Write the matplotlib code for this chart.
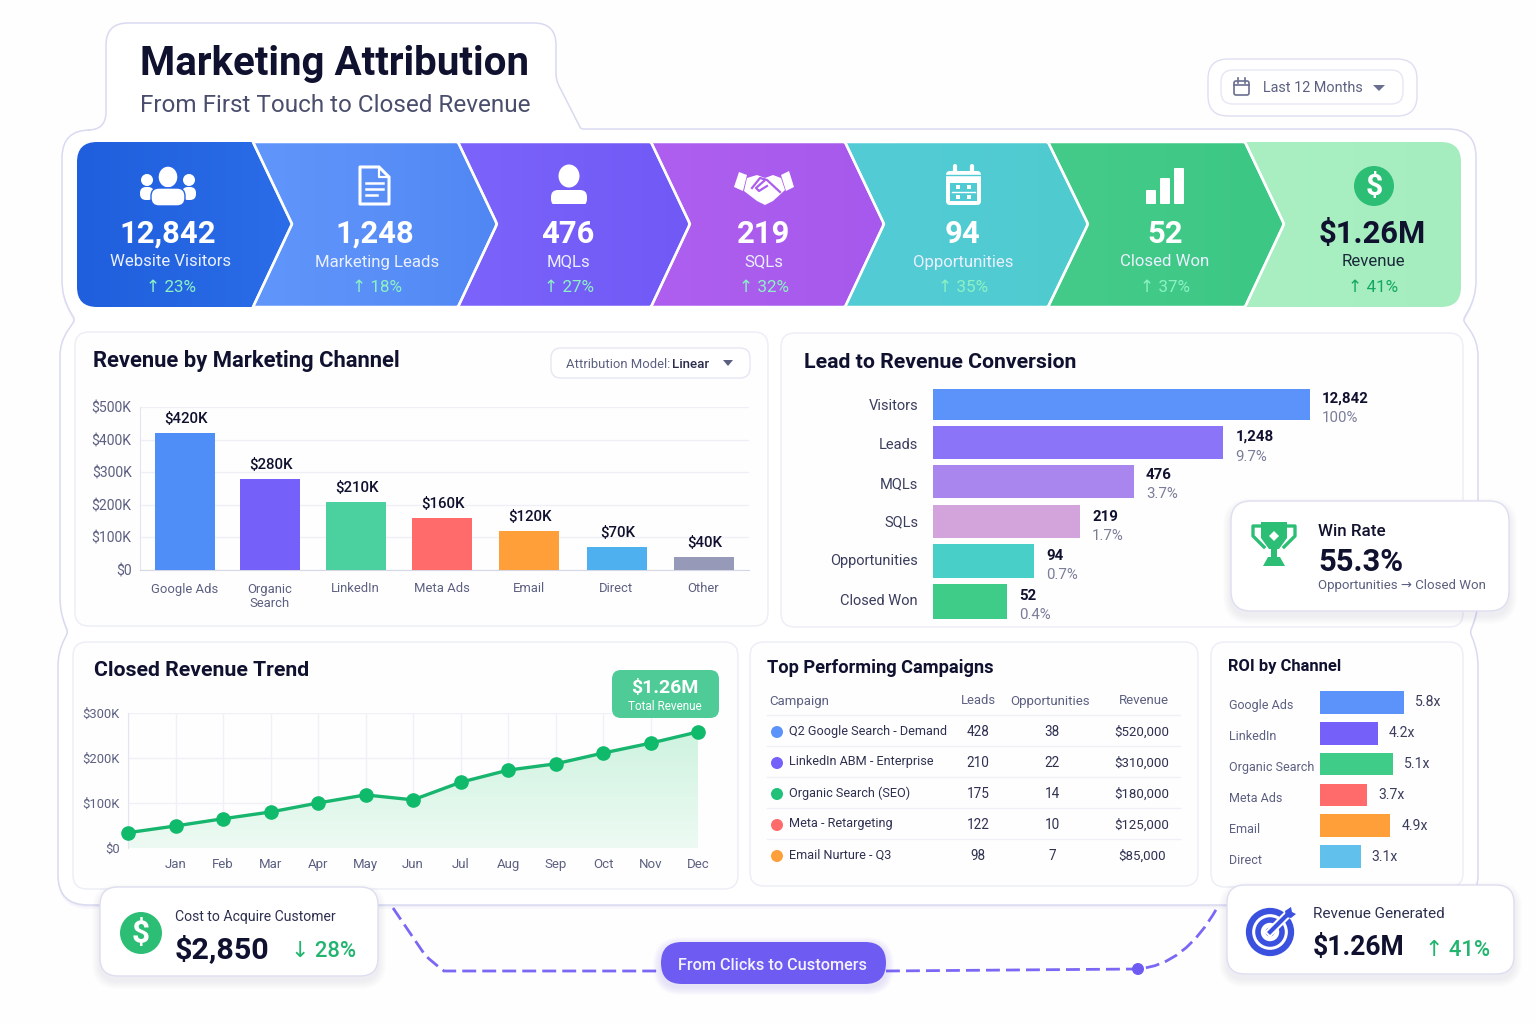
# Marketing attribution dashboard

import matplotlib
matplotlib.use('Agg')
import matplotlib.pyplot as plt
import numpy as np
from matplotlib.colors import LinearSegmentedColormap
from matplotlib.patches import Circle, Ellipse, FancyBboxPatch, PathPatch, Polygon, Rectangle
from matplotlib.path import Path

W, H = 1536, 1024
plt.rcParams['font.family'] = ['Roboto', 'DejaVu Sans']

INK = '#10112F'
GREY = '#5C6080'
EDGE = '#ECEDF6'

# funnel strip
stage_values = ['12,842', '1,248', '476', '219', '94', '52', '$1.26M']
stage_names = ['Website Visitors', 'Marketing Leads', 'MQLs', 'SQLs', 'Opportunities', 'Closed Won', 'Revenue']
stage_changes = ['23%', '18%', '27%', '32%', '35%', '37%', '41%']

# revenue by channel
channels = ['Google Ads', 'Organic\nSearch', 'LinkedIn', 'Meta Ads', 'Email', 'Direct', 'Other']
channel_revenue = [420, 280, 210, 160, 120, 70, 40]
channel_colors = ['#4F8EF7', '#7560FA', '#4BD0A0', '#FF6B6B', '#FF9F3A', '#4FB0F0', '#9699B8']
channel_slots = [185, 270, 355.5, 441.5, 528.5, 616.5, 703.5]

# conversion, bar lengths as drawn (Visitors = 100)
conv_names = ['Visitors', 'Leads', 'MQLs', 'SQLs', 'Opportunities', 'Closed Won']
conv_lengths = [100, 77, 53.3, 39, 26.8, 19.6]
conv_counts = ['12,842', '1,248', '476', '219', '94', '52']
conv_rates = ['100%', '9.7%', '3.7%', '1.7%', '0.7%', '0.4%']
conv_colors = ['#5B93FA', '#8C74F8', '#A985EE', '#D3A4DC', '#48CFC8', '#3FCB88']
conv_slots = [404.5, 442.5, 481.5, 521.5, 561, 601.5]
conv_heights = [31, 33, 33, 33, 34, 35]
conv_name_y = [406, 445, 484, 522, 561, 601]
conv_count_y = [399, 437, 475, 517, 556, 596]
conv_rate_y = [418, 457, 494, 536, 575, 615]

# revenue trend, first point has no month label
months = ['', 'Jan', 'Feb', 'Mar', 'Apr', 'May', 'Jun', 'Jul', 'Aug', 'Sep', 'Oct', 'Nov', 'Dec']
trend = [34, 49, 65, 80, 100, 118, 107, 146, 173, 187, 211, 233, 258]

# campaigns table
campaigns = ['Q2 Google Search - Demand', 'LinkedIn ABM - Enterprise', 'Organic Search (SEO)',
             'Meta - Retargeting', 'Email Nurture - Q3']
camp_leads = [428, 210, 175, 122, 98]
camp_opps = [38, 22, 14, 10, 7]
camp_revenue = ['$520,000', '$310,000', '$180,000', '$125,000', '$85,000']
camp_colors = ['#5B93FA', '#7560FA', '#22C17A', '#FF6B6B', '#FF9F3A']

# ROI, bar lengths as drawn
roi_names = ['Google Ads', 'LinkedIn', 'Organic Search', 'Meta Ads', 'Email', 'Direct']
roi_labels = ['5.8x', '4.2x', '5.1x', '3.7x', '4.9x', '3.1x']
roi_lengths = [5.8, 4.0, 5.0, 3.25, 4.85, 2.8]
roi_colors = ['#5B93FA', '#7560FA', '#3FCB88', '#FF6B6B', '#FF9F3A', '#62C0EC']


def fs(px):
    return px * 0.72


def new_axes(x0, y0, x1, y1, z=2):
    ax = fig.add_axes((x0 / W, 1 - y1 / H, (x1 - x0) / W, (y1 - y0) / H), zorder=z)
    ax.patch.set_alpha(0)
    return ax


def rrect(ax, x0, y0, x1, y1, r, fc='white', ec='none', lw=1, z=2, alpha=None):
    p = FancyBboxPatch((x0 + r, y0 + r), x1 - x0 - 2 * r, y1 - y0 - 2 * r,
                       boxstyle='round,pad={},rounding_size={}'.format(r, r),
                       fc=fc, ec=ec, lw=lw, zorder=z, alpha=alpha)
    ax.add_patch(p)
    return p


def shadow(ax, x0, y0, x1, y1, r, z=2, dy=5, steps=8, color='#5B5FA0', a=0.012):
    for i in range(steps):
        g = steps - i
        rrect(ax, x0 - g, y0 - g + dy, x1 + g, y1 + g + dy, r + g, fc=color, z=z, alpha=a)


def card(ax, x0, y0, x1, y1, r, z=2, fc='white', ec='#E4E5F4', lw=1.0, dy=5, a=0.012):
    shadow(ax, x0, y0, x1, y1, r, z=z, dy=dy, a=a)
    return rrect(ax, x0, y0, x1, y1, r, fc=fc, ec=ec, lw=lw, z=z)


def outline(pts):
    # closed path through (x, y, r) corners, each corner rounded with radius r
    verts, codes = [], []
    n = len(pts)
    for i in range(n):
        p = np.array(pts[i][:2], float)
        a = np.array(pts[i - 1][:2], float)
        b = np.array(pts[(i + 1) % n][:2], float)
        r = pts[i][2]
        s = p + (a - p) / np.linalg.norm(a - p) * r
        e = p + (b - p) / np.linalg.norm(b - p) * r
        verts.append(s)
        codes.append(Path.MOVETO if i == 0 else Path.LINETO)
        verts += [p, e]
        codes += [Path.CURVE3, Path.CURVE3]
    verts.append(verts[0])
    codes.append(Path.CLOSEPOLY)
    return Path(verts, codes)


def gradient_patch(ax, path, colors, box, z=3):
    x0, y0, x1, y1 = box
    cmap = LinearSegmentedColormap.from_list('g', colors)
    xx, _ = np.meshgrid(np.linspace(0, 1, 64), np.linspace(0, 1, 64))
    im = ax.imshow(xx, extent=(x0, x1, y1, y0), cmap=cmap, aspect='auto', zorder=z, origin='upper')
    patch = PathPatch(path, fc='none', ec='none', zorder=z, transform=ax.transData)
    ax.add_patch(patch)
    im.set_clip_path(patch)
    ax.set_xlim(0, W)
    ax.set_ylim(H, 0)
    return patch


def dollar(ax, cx, cy, r, z):
    ax.add_patch(Circle((cx, cy), r, fc='#2DBE76', ec='none', zorder=z))
    ax.text(cx, cy + 1, '$', color='white', fontsize=fs(r * 1.5), fontweight='bold', ha='center',
            va='center', zorder=z + 1)


fig = plt.figure(figsize=(W / 100, H / 100), dpi=100, facecolor='#FEFEFF')
bg = fig.add_axes((0, 0, 1, 1), zorder=0)
bg.set_xlim(0, W)
bg.set_ylim(H, 0)
bg.axis('off')
top = fig.add_axes((0, 0, 1, 1), zorder=5)
top.set_xlim(0, W)
top.set_ylim(H, 0)
top.axis('off')
top.patch.set_alpha(0)

# main frame with header tab and side notches
frame = outline([(62, 130, 28), (106, 130, 18), (106, 23, 22), (556, 23, 22), (556, 80, 6), (581, 129, 2),
                 (1476, 129, 28), (1476, 297, 16), (1463, 320, 3), (1478, 342, 14), (1478, 612, 14),
                 (1470, 632, 3), (1478, 652, 14), (1478, 905, 30), (58, 905, 30), (58, 652, 14),
                 (68, 632, 3), (60, 612, 14), (60, 342, 14), (75, 320, 3), (62, 297, 16)])
for off, alpha in ((4, 0.05), (2, 0.08)):
    bg.add_patch(PathPatch(frame.transformed(matplotlib.transforms.Affine2D().translate(0, off)),
                           fc='#8A8CCB', ec='none', alpha=alpha, zorder=1))
bg.add_patch(PathPatch(frame, fc='white', ec='#D9DAF0', lw=1.1, zorder=1))

# header
bg.text(140, 64, 'Marketing Attribution', color=INK, fontsize=fs(40.3), fontweight='bold', va='center')
bg.text(140, 106, 'From First Touch to Closed Revenue', color='#4A4E6C', fontsize=fs(24.3), va='center')

rrect(bg, 1208, 59, 1417, 116, 20, fc='white', ec='#DEDFF2', lw=1, z=2)
rrect(bg, 1221, 70, 1403, 104, 12, fc='white', ec='#E6E7F5', lw=1, z=2)
rrect(bg, 1234, 81, 1249, 95, 2, fc='white', ec='#6A6E90', lw=1.2, z=3)
bg.plot([1234, 1249], [85, 85], color='#6A6E90', lw=1.2, zorder=4)
bg.plot([1238, 1238, np.nan, 1245, 1245], [78, 83, np.nan, 78, 83], color='#6A6E90', lw=1.2, zorder=4)
bg.text(1263, 88, 'Last 12 Months', color='#5C6080', fontsize=fs(14.4), va='center', zorder=4)
bg.add_patch(Polygon([(1373, 85), (1385, 85), (1379, 91)], fc='#6A6E90', ec='none', zorder=4))

# chevrons
tops = [253, 458, 651, 845, 1048, 1245]
tips = [292, 497, 690, 884, 1088, 1284]
y0, y1, ym = 142, 307, 224
stage_fill = [('#1F5FDD', '#2B6CE8'), ('#6197FB', '#5187F3'), ('#7B63FB', '#7059F5'), ('#AE5FEF', '#A659EC'),
              ('#54CCD6', '#4FCBCF'), ('#45CB89', '#3CC785'), ('#A9EFC2', '#A5EDBF')]
stage_x = [168, 375, 568, 764, 963, 1165, 1372]
label_x = [171, 377, 569, 764, 963, 1165, 1373]
for i in range(6, -1, -1):
    if i == 0:
        pts = [(77, y0, 20), (tops[0], y0, 2), (tips[0], ym, 3), (tops[0], y1, 2), (77, y1, 20)]
    elif i == 6:
        pts = [(tops[5], y0, 2), (1461, y0, 20), (1461, y1, 20), (tops[5], y1, 2), (tips[5], ym, 0.5)]
    else:
        pts = [(tops[i - 1], y0, 2), (tops[i], y0, 2), (tips[i], ym, 3), (tops[i], y1, 2), (tops[i - 1], y1, 2),
               (tips[i - 1], ym, 0.5)]
    path = outline(pts)
    gradient_patch(bg, path, stage_fill[i], ((tops[i - 1] if i else 77), y0, (tips[i] if i < 6 else 1461), y1),
                   z=3 + (6 - i) * 0.01)
    edge = 'none' if i in (0, 6) else 'white'
    bg.add_patch(PathPatch(path, fc='none', ec=edge, lw=1.8, zorder=3.2 + (6 - i) * 0.01))
bg.plot([tops[0], tips[0], tops[0]], [y0, ym, y1], color='white', lw=1.8, zorder=3.3)
bg.plot([tops[5], tips[5], tops[5]], [y0, ym, y1], color='white', lw=1.8, zorder=3.3)
for i in range(7):
    dark = i == 6
    bg.text(stage_x[i], 234, stage_values[i], color=INK if dark else 'white', fontsize=fs(31), fontweight='bold',
            ha='center', va='center', zorder=5)
    bg.text(label_x[i], 262, stage_names[i], color='#1A2A3A' if dark else '#EAF0FF', fontsize=fs(16.8),
            ha='center', va='center', zorder=5)
    bg.text(label_x[i], 288, '↑ ' + stage_changes[i], color='#12A862' if dark else '#8CF2C4',
            fontsize=fs(17), ha='center', va='center', zorder=5)

# stage icons
Z = 5
for cx, cy, r in [(147, 180, 6), (189, 180, 6)]:
    bg.add_patch(Circle((cx, cy), r, fc='white', ec='none', zorder=Z))
rrect(bg, 140, 187, 154, 200, 6, z=Z)
rrect(bg, 182, 187, 196, 200, 6, z=Z)
bg.add_patch(Ellipse((168, 177), 20, 22, fc='white', ec='#2563E6', lw=1, zorder=Z + 0.1))
rrect(bg, 151, 188, 185, 206, 8, ec='#2563E6', lw=1, z=Z + 0.1)

bg.add_patch(Polygon([(360, 167), (379, 167), (389, 177), (389, 204), (360, 204)], fc='none', ec='white', lw=2.2,
                     joinstyle='round', zorder=Z))
bg.plot([379, 379, 389], [167, 177, 177], color='white', lw=1.6, zorder=Z)
bg.plot([366, 383, np.nan, 366, 383, np.nan, 366, 377], [183, 183, np.nan, 189, 189, np.nan, 195, 195],
        color='white', lw=1.8, zorder=Z)

bg.add_patch(Ellipse((569, 176), 21, 23, fc='white', ec='none', zorder=Z))
rrect(bg, 551, 190, 587, 206, 7, z=Z)
bg.add_patch(Rectangle((549, 204), 40, 4, fc='#745DF8', ec='none', zorder=Z + 0.1))

bg.add_patch(Polygon([(734, 187), (739, 172), (747, 175), (743, 191)], fc='white', ec='none', zorder=Z))
bg.add_patch(Polygon([(781, 175), (789, 171), (794, 187), (786, 191)], fc='white', ec='none', zorder=Z))
bg.add_patch(Polygon([(747, 178), (757, 175), (765, 178), (773, 175), (781, 178), (785, 190), (773, 201),
                      (765, 205), (757, 201), (744, 191)], fc='white', ec='none', zorder=Z))
bg.plot([752, 760, 767, 780, np.nan, 764, 756, 759, 767], [188, 178, 180, 192, np.nan, 181, 188, 191, 186],
        color='#AD5DEE', lw=1.6, zorder=Z + 0.1)

rrect(bg, 946, 171, 981, 205, 4, z=Z)
bg.plot([955, 955, np.nan, 972, 972], [166, 174, np.nan, 166, 174], color='white', lw=3, zorder=Z,
        solid_capstyle='round')
bg.plot([946, 981], [175, 175], color='#51CBD3', lw=1, zorder=Z + 0.1)
bg.add_patch(Rectangle((950, 183), 27, 18, fc='#51CBD3', ec='none', zorder=Z + 0.1))
bg.plot([952, 975], [192, 192], color='white', lw=1, zorder=Z + 0.2)
for cx, cy in [(958, 187), (969, 187), (958, 197), (969, 197)]:
    bg.add_patch(Rectangle((cx - 2, cy - 2), 4, 4, fc='white', ec='none', zorder=Z + 0.2))

for x0_, y_ in [(1146, 190), (1160, 178), (1174, 168)]:
    rrect(bg, x0_, y_, x0_ + 10, 204, 1, z=Z)

dollar(bg, 1374, 186, 20, Z)

# section cards
for x0_, y0_, x1_, y1_ in [(75, 332, 768, 626), (781, 333, 1463, 627), (73, 642, 738, 889), (750, 642, 1198, 886),
                           (1211, 642, 1463, 887)]:
    rrect(bg, x0_, y0_, x1_, y1_, 14, fc='#FEFEFF', ec=EDGE, lw=1, z=2)

bg.text(93, 361, 'Revenue by Marketing Channel', color=INK, fontsize=fs(22), fontweight='bold', va='center', zorder=3)
bg.text(804, 362, 'Lead to Revenue Conversion', color=INK, fontsize=fs(21.3), fontweight='bold', va='center', zorder=3)
bg.text(94, 670, 'Closed Revenue Trend', color=INK, fontsize=fs(21.3), fontweight='bold', va='center', zorder=3)
bg.text(767, 668, 'Top Performing Campaigns', color=INK, fontsize=fs(18.3), fontweight='bold', va='center', zorder=3)
bg.text(1228, 667, 'ROI by Channel', color=INK, fontsize=fs(16.5), fontweight='bold', va='center', zorder=3)

# attribution dropdown
rrect(bg, 551, 348, 750, 378, 10, fc='white', ec='#E6E7F5', lw=1, z=3)
bg.text(566, 364, 'Attribution Model:', color=GREY, fontsize=fs(13), va='center', zorder=4)
bg.text(672, 364, 'Linear', color='#2A2C4C', fontsize=fs(13.4), fontweight='medium', va='center', zorder=4)
bg.add_patch(Polygon([(723, 360), (733, 360), (728, 366)], fc='#5C6080', ec='none', zorder=4))

# revenue by channel bars
ax = new_axes(140, 407, 749, 570)
ax.bar(channel_slots, channel_revenue, width=60, color=channel_colors, zorder=3)
for x, v in zip(channel_slots, channel_revenue):
    ax.annotate('${}K'.format(v), (x, v), xytext=(1, 5), textcoords='offset points', ha='center', va='bottom',
                color=INK, fontsize=fs(15), fontweight='medium')
ax.set_xlim(140, 749)
ax.set_ylim(0, 500)
ax.set_yticks([0, 100, 200, 300, 400, 500])
ax.set_yticklabels(['$0', '$100K', '$200K', '$300K', '$400K', '$500K'], color=GREY, fontsize=fs(14))
ax.set_xticks(channel_slots)
ax.set_xticklabels(channels, color=GREY, fontsize=fs(13), linespacing=1.15, va='top')
ax.tick_params(length=0, pad=6)
ax.tick_params(axis='x', pad=9)
ax.grid(axis='y', color='#EFF0F6', lw=1)
ax.set_axisbelow(True)
for s in ('top', 'right'):
    ax.spines[s].set_visible(False)
ax.spines['left'].set_color('#E4E5EE')
ax.spines['bottom'].set_color('#D5D7E4')

# conversion bars
ax = new_axes(933, 384, 1400, 624)
ax.barh(conv_slots, conv_lengths, height=conv_heights, color=conv_colors, zorder=3)
ax.set_xlim(0, 467 / 3.77)
ax.set_ylim(624, 384)
ax.axis('off')
for i in range(len(conv_names)):
    ax.annotate(conv_names[i], (0, conv_name_y[i]), xytext=(-fs(15), 0), textcoords='offset points', ha='right',
                va='center', color='#3A3D5C', fontsize=fs(14.6), annotation_clip=False)
    ax.annotate(conv_counts[i], (conv_lengths[i], conv_count_y[i]), xytext=(fs(12), 0), textcoords='offset points',
                ha='left', va='center', color=INK, fontsize=fs(15), fontweight='bold', annotation_clip=False)
    ax.annotate(conv_rates[i], (conv_lengths[i], conv_rate_y[i]), xytext=(fs(12), 0), textcoords='offset points',
                ha='left', va='center', color='#7A7D98', fontsize=fs(15), annotation_clip=False)

# trend line
ax = new_axes(128, 713, 698, 848)
tx = np.arange(len(trend))
fill = ax.fill_between(tx, trend, 0, color='none')
cmap = LinearSegmentedColormap.from_list('f', ['#CFF3E0', '#EDFAF3'])
im = ax.imshow(np.linspace(0, 1, 64).reshape(-1, 1), extent=(0, 12, 0, 260), cmap=cmap, aspect='auto', zorder=1,
               origin='upper')
im.set_clip_path(fill.get_paths()[0], transform=ax.transData)
ax.plot(tx, trend, color='#17B56E', lw=2.4, marker='o', ms=9.5, mfc='#0FBA6B', mec='#0FBA6B', zorder=3, clip_on=False)
ax.set_xlim(0, 12)
ax.set_ylim(0, 300)
ax.set_xticks(tx)
ax.set_xticklabels(months, color=GREY, fontsize=fs(13.2))
ax.set_yticks([0, 100, 200, 300])
ax.set_yticklabels(['$0', '$100K', '$200K', '$300K'], color=GREY, fontsize=fs(13))
ax.tick_params(length=0)
ax.tick_params(axis='x', pad=7)
ax.tick_params(axis='y', pad=6)
ax.grid(color='#F0F1F6', lw=1)
ax.set_axisbelow(True)
for s in ('top', 'right', 'bottom'):
    ax.spines[s].set_visible(False)
ax.spines['left'].set_color('#E4E5EE')

# total revenue badge
rrect(top, 612, 670, 719, 718, 9, fc='#4FCB97', z=3)
top.text(665, 688, '$1.26M', color='white', fontsize=fs(19.5), fontweight='bold', ha='center', va='center', zorder=4)
top.text(665, 707, 'Total Revenue', color='white', fontsize=fs(11.8), ha='center', va='center', zorder=4)

# campaign table
bg.text(769, 701, 'Campaign', color=GREY, fontsize=fs(13.2), va='center', zorder=4)
bg.text(978, 701, 'Leads', color=GREY, fontsize=fs(13), ha='center', va='center', zorder=4)
bg.text(1050, 701, 'Opportunities', color=GREY, fontsize=fs(13.3), ha='center', va='center', zorder=4)
bg.text(1144, 701, 'Revenue', color=GREY, fontsize=fs(13.3), ha='center', va='center', zorder=4)
bg.plot([767, 1180], [715, 715], color='#F0F1F6', lw=1, zorder=3)
for i, name in enumerate(campaigns):
    row = 731 + 31 * i
    bg.add_patch(Circle((777, row + 1), 6, fc=camp_colors[i], ec='none', zorder=4))
    bg.text(789, row, name, color='#2E3050', fontsize=fs(12.6), va='center', zorder=4)
    bg.text(978, row + 1, str(camp_leads[i]), color='#2E3050', fontsize=fs(13.5), ha='center', va='center', zorder=4)
    bg.text(1052, row + 1, str(camp_opps[i]), color='#2E3050', fontsize=fs(13.5), ha='center', va='center', zorder=4)
    bg.text(1142, row + 1, camp_revenue[i], color='#2E3050', fontsize=fs(13.3), ha='center', va='center', zorder=4)
    if i < 4:
        bg.plot([767, 1180], [row + 15, row + 15], color='#F0F1F6', lw=1, zorder=3)

# ROI bars
ax = new_axes(1320, 687, 1456, 872)
rpos = np.arange(len(roi_names))
ax.barh(rpos, roi_lengths, height=0.74, color=roi_colors, zorder=3)
ax.set_xlim(0, 136 / 14.5)
ax.set_ylim(5.5, -0.5)
ax.axis('off')
for i in rpos:
    ax.annotate(roi_names[i], (0, i), xytext=(-fs(91), -fs(3.5)), textcoords='offset points', ha='left', va='center',
                color=GREY, fontsize=fs(12.5), annotation_clip=False)
    ax.annotate(roi_labels[i], (roi_lengths[i], i), xytext=(fs(11), fs(0)), textcoords='offset points', ha='left',
                va='center', color='#3A3D5C', fontsize=fs(14))

# connector and pill
dash = (0, (5, 2.2))
bg.add_patch(PathPatch(Path([(393, 908), (425, 955), (432, 962), (444, 971), (661, 971)],
                            [Path.MOVETO, Path.LINETO, Path.CURVE3, Path.CURVE3, Path.LINETO]),
                       fc='none', ec='#7A68F5', lw=2, ls=dash, zorder=1.5))
bg.add_patch(PathPatch(Path([(886, 971), (1138, 969), (1185, 965), (1217, 908)],
                            [Path.MOVETO, Path.LINETO, Path.CURVE3, Path.CURVE3]),
                       fc='none', ec='#7A68F5', lw=2, ls=dash, zorder=1.5))
bg.add_patch(Circle((1138, 969), 6, fc='#6E5CF2', ec='none', zorder=2))
shadow(bg, 661, 942, 886, 984, 20, z=2, dy=3, a=0.02, color='#6E5CF2')
rrect(bg, 661, 942, 886, 984, 21, fc='#6E5CF2', z=2.5)
bg.text(772, 965, 'From Clicks to Customers', color='#F4F2FF', fontsize=fs(16.3), ha='center', va='center', zorder=3,
        fontweight='medium')

# win rate card
card(top, 1231, 501, 1509, 611, 20, z=6, ec='#DDDEF0')
c = '#2DBE76'
top.add_patch(Polygon([(1261, 522), (1287, 522), (1287, 538), (1279, 549), (1269, 549), (1261, 538)], fc=c, ec='none',
                      zorder=7))
top.plot([1261, 1253, 1253, 1264], [526, 526, 536, 547], color=c, lw=2.4, zorder=7)
top.plot([1287, 1295, 1295, 1284], [526, 526, 536, 547], color=c, lw=2.4, zorder=7)
top.add_patch(Rectangle((1271, 548), 6, 10, fc=c, ec='none', zorder=7))
top.add_patch(Polygon([(1268, 557), (1280, 557), (1285, 566), (1263, 566)], fc=c, ec='none', zorder=7))
top.add_patch(Polygon([(1274, 531), (1279, 536), (1274, 541), (1269, 536)], fc='white', ec='none', zorder=8))
top.text(1318, 531, 'Win Rate', color=INK, fontsize=fs(17), fontweight='medium', va='center', zorder=7)
top.text(1318, 562, '55.3%', color=INK, fontsize=fs(31), fontweight='bold', va='center', zorder=7)
top.text(1318, 586, 'Opportunities → Closed Won', color=GREY, fontsize=fs(13.2), va='center', zorder=7)

# cost card
card(top, 100, 887, 378, 976, 18, z=6, ec='#DDDEF0')
dollar(top, 141, 933, 21, 7)
top.text(175, 917, 'Cost to Acquire Customer', color='#2E3050', fontsize=fs(14), va='center', zorder=7)
top.text(175, 950, '$2,850', color=INK, fontsize=fs(30.5), fontweight='bold', va='center', zorder=7)
top.text(356, 951, '↓ 28%', color='#22B56F', fontsize=fs(22), fontweight='medium', ha='right', va='center', zorder=7)

# revenue generated card
card(top, 1227, 885, 1514, 974, 18, z=6, ec='#DDDEF0')
blue = '#3A50DE'
top.add_patch(Circle((1270, 932), 21, fc='none', ec=blue, lw=4.5, zorder=7))
top.add_patch(Circle((1270, 932), 12, fc='none', ec=blue, lw=4, zorder=7))
top.add_patch(Circle((1270, 932), 4.5, fc=blue, ec='none', zorder=7))
top.plot([1270, 1289], [932, 913], color='white', lw=6, zorder=7.1)
top.plot([1270, 1289], [932, 913], color=blue, lw=3, zorder=7.2)
top.add_patch(Polygon([(1285, 911), (1291, 907), (1292, 912), (1296, 914), (1291, 918), (1286, 917)], fc=blue,
                      ec='none', zorder=7.2))
top.text(1313, 914, 'Revenue Generated', color='#2E3050', fontsize=fs(15.2), va='center', zorder=7)
top.text(1313, 948, '$1.26M', color=INK, fontsize=fs(26.5), fontweight='bold', va='center', zorder=7)
top.text(1490, 951, '↑ 41%', color='#22B56F', fontsize=fs(22), fontweight='medium', ha='right', va='center', zorder=7)

plt.savefig('out.png', dpi=100)
